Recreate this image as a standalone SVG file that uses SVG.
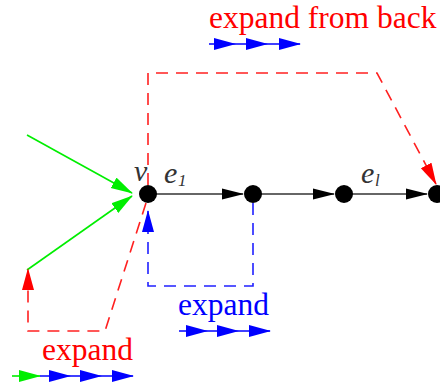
<svg xmlns="http://www.w3.org/2000/svg" width="440" height="387" viewBox="0 0 440 387">
<style>
.lbl{font-family:"Liberation Serif","Times New Roman",serif;font-size:31.5px}
.math{font-family:"Liberation Serif","Times New Roman",serif;font-style:italic;fill:#333}
.edge{stroke:#333;stroke-width:1.6;fill:none}
.rd{stroke:#ff2020;stroke-width:1.6;fill:none;stroke-dasharray:12 8}
.bd{stroke:#2020ff;stroke-width:1.6;fill:none;stroke-dasharray:12 8}
.gr{stroke:#00ee00;stroke-width:1.6;fill:none}
.bl{stroke:#0000ff;stroke-width:1.6;fill:none}
.node{fill:#000}
</style>
<defs>
<marker id="aK" markerUnits="userSpaceOnUse" markerWidth="22" markerHeight="12" refX="21" refY="6" orient="auto" viewBox="0 0 22 12"><path d="M0,0.5 L22,6 L0,11.5 Z" fill="#000"/></marker>
<marker id="aR" markerUnits="userSpaceOnUse" markerWidth="22" markerHeight="13" refX="21" refY="6.5" orient="auto" viewBox="0 0 22 13"><path d="M0,0.5 L22,6.5 L0,12.5 Z" fill="#ff0000"/></marker>
<marker id="aB" markerUnits="userSpaceOnUse" markerWidth="22" markerHeight="13" refX="21" refY="6.5" orient="auto" viewBox="0 0 22 13"><path d="M0,0.5 L22,6.5 L0,12.5 Z" fill="#0000ff"/></marker>
<marker id="aG" markerUnits="userSpaceOnUse" markerWidth="22" markerHeight="13" refX="21" refY="6.5" orient="auto" viewBox="0 0 22 13"><path d="M0,0.5 L22,6.5 L0,12.5 Z" fill="#00ee00"/></marker>
</defs>
<rect width="440" height="387" fill="#fff"/>
<g id="connectors">
<line class="edge" x1="148" y1="194" x2="243" y2="194" marker-end="url(#aK)"/>
<line class="edge" x1="253" y1="194" x2="334" y2="194" marker-end="url(#aK)"/>
<line class="edge" x1="344" y1="194" x2="427" y2="194" marker-end="url(#aK)"/>
<line class="gr" x1="27" y1="135" x2="132" y2="193" marker-end="url(#aG)"/>
<polyline class="gr" points="27,270 132,196" marker-end="url(#aG)"/>
<polyline class="rd" points="148,185 148,73 377,73 436,184" marker-end="url(#aR)"/>
<polyline class="rd" points="146,203 105,331 28,331 28,269" marker-end="url(#aR)"/>
<polyline class="bd" points="253,203 253,286 148,286 148,211" marker-end="url(#aB)"/>
</g>
<g id="node-v"><circle class="node" cx="148" cy="194" r="9"/><text class="math" x="134" y="181" font-size="30">v</text></g>
<g id="node-2"><circle class="node" cx="253" cy="194" r="9"/></g>
<g id="node-3"><circle class="node" cx="344" cy="194" r="9"/></g>
<g id="node-4"><circle class="node" cx="437" cy="194" r="9"/></g>
<g id="label-e1"><text class="math" x="164" y="183" font-size="30">e</text><text class="math" x="178" y="186" font-size="17" font-style="normal">1</text></g>
<g id="label-el"><text class="math" x="361" y="183" font-size="30">e</text><text class="math" x="375" y="186" font-size="17">l</text></g>
<g id="legend-back">
<text class="lbl" x="209" y="28" fill="#ff0000">expand from back</text>
<polyline class="bl" points="209,44 235,44 267,44 300,44" marker-mid="url(#aB)" marker-end="url(#aB)"/>
</g>
<g id="legend-mid">
<text class="lbl" x="178" y="315" fill="#0000ff">expand</text>
<polyline class="bl" points="179,331 207,331 238,331 270,331" marker-mid="url(#aB)" marker-end="url(#aB)"/>
</g>
<g id="legend-bottom">
<text class="lbl" x="42" y="360" fill="#ff0000">expand</text>
<line class="gr" x1="12" y1="376" x2="40" y2="376" marker-end="url(#aG)"/>
<polyline class="bl" points="40,376 70,376 101,376 133,376" marker-mid="url(#aB)" marker-end="url(#aB)"/>
</g>
</svg>
